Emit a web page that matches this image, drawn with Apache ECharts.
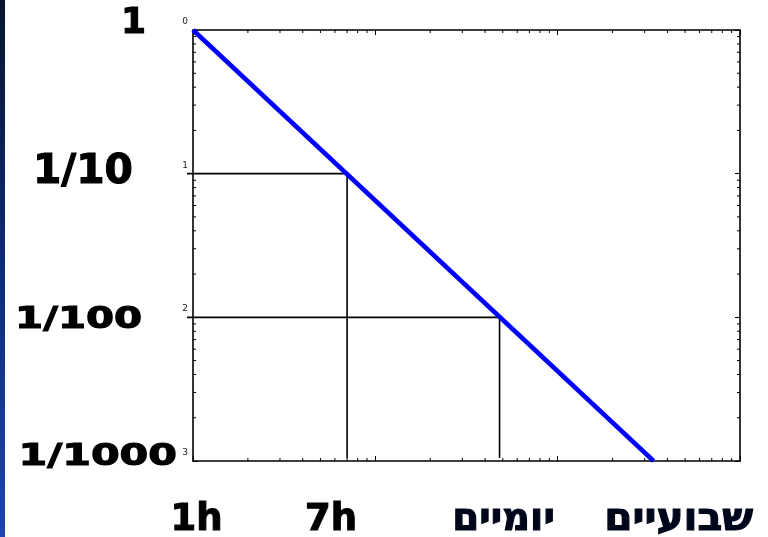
<!DOCTYPE html>
<html>
<head>
<meta charset="utf-8">
<script src="https://cdn.jsdelivr.net/npm/echarts@6/dist/echarts.min.js"></script>
<style>
  html, body { margin: 0; padding: 0; background: #ffffff; }
  #chart { width: 768px; height: 537px; }
</style>
</head>
<body>
<div id="chart"></div>
<script>
// Decay curve on log-log axes: probability against elapsed time (hours)
const curveHours = [1, 336];
const curveProb = [1, 0.001];

// Guide lines dropped from the curve to both axes
const guideHours = [7, 48];
const guideProb = [0.1, 0.01];

// Axis label texts and the values they sit on
const yLabelValues = [1, 0.1, 0.01, 0.001];
const yLabelTexts = ['1', '1/10', '1/100', '1/1000'];
const xLabelValues = [1, 7, 48, 336];
const xLabelTexts = ['1h', '7h', 'יומיים', 'שבועיים'];

// Axis ranges
const xRange = [1, 1000];
const yRange = [0.001, 1];

// Label layout: gap from the axis, vertical shift, font size, horizontal stretch
const yLabelLayout = [
  { gap: 47, dy: -6, size: 36, sx: 1.0 },
  { gap: 60, dy: -1, size: 40, sx: 1.02 },
  { gap: 51, dy: 3, size: 31, sx: 1.3 },
  { gap: 16, dy: -4, size: 31, sx: 1.33 }
];
const xLabelLayout = [
  { dx: 3.5, size: 37, sx: 1.0, color: '#000000' },
  { dx: -16, size: 37, sx: 1.0, color: '#000000' },
  { dx: 4, size: 38, sx: 1.02, color: '#00061a' },
  { dx: 25, size: 38, sx: 1.07, color: '#00061a' }
];

// Minor tick values (2..9 per decade) inside each range
function minorTicks(range) {
  const out = [];
  for (let e = Math.floor(Math.log10(range[0])); e < Math.ceil(Math.log10(range[1])); e++) {
    for (let m = 2; m <= 9; m++) {
      const v = m * Math.pow(10, e);
      if (v > range[0] && v < range[1]) out.push(v);
    }
  }
  return out;
}

const chart = echarts.init(document.getElementById('chart'), null, { renderer: 'canvas' });

const logAxisBase = {
  type: 'log',
  logBase: 10,
  splitLine: { show: false },
  axisTick: { show: true, inside: true, length: 5, lineStyle: { color: '#000', width: 1 } }
};

const tickLen = 3;

chart.setOption({
  animation: false,
  backgroundColor: '#ffffff',
  grid: { left: 193, top: 30, right: 28, bottom: 76, containLabel: false },
  xAxis: [
    Object.assign({}, logAxisBase, {
      min: xRange[0], max: xRange[1], position: 'bottom',
      axisLine: { show: true, lineStyle: { color: '#000', width: 1.6 } },
      axisLabel: { show: false }
    }),
    Object.assign({}, logAxisBase, {
      min: xRange[0], max: xRange[1], position: 'top',
      axisLine: { show: true, lineStyle: { color: '#3c3c3c', width: 2 } },
      axisLabel: { show: false }
    })
  ],
  yAxis: [
    Object.assign({}, logAxisBase, {
      min: yRange[0], max: yRange[1], position: 'left',
      axisLine: { show: true, lineStyle: { color: '#000', width: 1.6 } },
      axisLabel: {
        show: true,
        fontSize: 9,
        fontFamily: 'DejaVu Sans',
        color: '#222',
        margin: 5,
        verticalAlign: 'bottom',
        padding: [0, 0, 4, 0],
        formatter: function (v) { return String(Math.round(-Math.log10(v))); }
      }
    }),
    Object.assign({}, logAxisBase, {
      min: yRange[0], max: yRange[1], position: 'right',
      axisLine: { show: true, lineStyle: { color: '#000', width: 1.6 } },
      axisLabel: { show: false }
    })
  ],
  series: [
    {
      // minor ticks along top and bottom edges
      type: 'custom',
      xAxisIndex: 0, yAxisIndex: 0,
      silent: true,
      data: minorTicks(xRange).map(function (v) { return [v, yRange[1]]; }),
      renderItem: function (params, api) {
        const cs = params.coordSys;
        const p = api.coord([api.value(0), api.value(1)]);
        const st = { stroke: '#000', lineWidth: 1 };
        return { type: 'group', children: [
          { type: 'line', shape: { x1: p[0], y1: cs.y, x2: p[0], y2: cs.y + tickLen }, style: st },
          { type: 'line', shape: { x1: p[0], y1: cs.y + cs.height, x2: p[0], y2: cs.y + cs.height - tickLen }, style: st }
        ] };
      }
    },
    {
      // minor ticks along left and right edges
      type: 'custom',
      xAxisIndex: 0, yAxisIndex: 0,
      silent: true,
      data: minorTicks(yRange).map(function (v) { return [xRange[0], v]; }),
      renderItem: function (params, api) {
        const cs = params.coordSys;
        const p = api.coord([api.value(0), api.value(1)]);
        const st = { stroke: '#000', lineWidth: 1 };
        return { type: 'group', children: [
          { type: 'line', shape: { x1: cs.x, y1: p[1], x2: cs.x + tickLen, y2: p[1] }, style: st },
          { type: 'line', shape: { x1: cs.x + cs.width, y1: p[1], x2: cs.x + cs.width - tickLen, y2: p[1] }, style: st }
        ] };
      }
    },
    {
      // guide lines from the curve to the axes
      type: 'custom',
      xAxisIndex: 0, yAxisIndex: 0,
      silent: true,
      data: guideHours.map(function (h, i) { return [h, guideProb[i]]; }),
      renderItem: function (params, api) {
        const cs = params.coordSys;
        const p = api.coord([api.value(0), api.value(1)]);
        const st = { stroke: '#000', lineWidth: 1.6 };
        return { type: 'group', children: [
          { type: 'line', shape: { x1: cs.x - 6, y1: p[1], x2: p[0], y2: p[1] }, style: st },
          { type: 'line', shape: { x1: p[0], y1: p[1], x2: p[0], y2: cs.y + cs.height - 3 }, style: st }
        ] };
      }
    },
    {
      type: 'line',
      xAxisIndex: 0, yAxisIndex: 0,
      data: curveHours.map(function (h, i) { return [h, curveProb[i]]; }),
      symbol: 'none',
      clip: false,
      z: 5,
      lineStyle: { color: '#0000ff', width: 4.5 }
    }
  ]
});

// Big axis texts anchored to their axis values
function placeLabels() {
  const g = [];
  g.push({
    type: 'rect', id: 'edge', left: 0, top: 0, silent: true,
    shape: { width: 5, height: 537 },
    style: { fill: new echarts.graphic.LinearGradient(0, 0, 0, 1, [
      { offset: 0, color: '#08142e' },
      { offset: 0.5, color: '#0d2c78' },
      { offset: 1, color: '#1d45ad' }
    ]) }
  });
  const originPx = chart.convertToPixel({ xAxisIndex: 0, yAxisIndex: 0 }, [xRange[0], yRange[0]]);
  yLabelValues.forEach(function (v, i) {
    const L = yLabelLayout[i];
    const p = chart.convertToPixel({ xAxisIndex: 0, yAxisIndex: 0 }, [xRange[0], v]);
    g.push({
      type: 'text', id: 'y' + i, silent: true,
      x: p[0] - L.gap, y: p[1] + L.dy, scaleX: L.sx,
      style: {
        text: yLabelTexts[i], fill: '#000', stroke: '#000', lineWidth: 1.1,
        font: 'bold ' + L.size + 'px "DejaVu Sans"',
        align: 'right', verticalAlign: 'middle'
      }
    });
  });
  xLabelValues.forEach(function (v, i) {
    const L = xLabelLayout[i];
    const p = chart.convertToPixel({ xAxisIndex: 0, yAxisIndex: 0 }, [v, yRange[0]]);
    g.push({
      type: 'text', id: 'x' + i, silent: true,
      x: p[0] + L.dx, y: originPx[1] + 59, scaleX: L.sx,
      style: {
        text: xLabelTexts[i], fill: L.color, stroke: L.color, lineWidth: 1.1,
        font: 'bold ' + L.size + 'px "DejaVu Sans"',
        align: 'center', verticalAlign: 'middle'
      }
    });
  });
  chart.setOption({ graphic: g });
}
placeLabels();
</script>
</body>
</html>
